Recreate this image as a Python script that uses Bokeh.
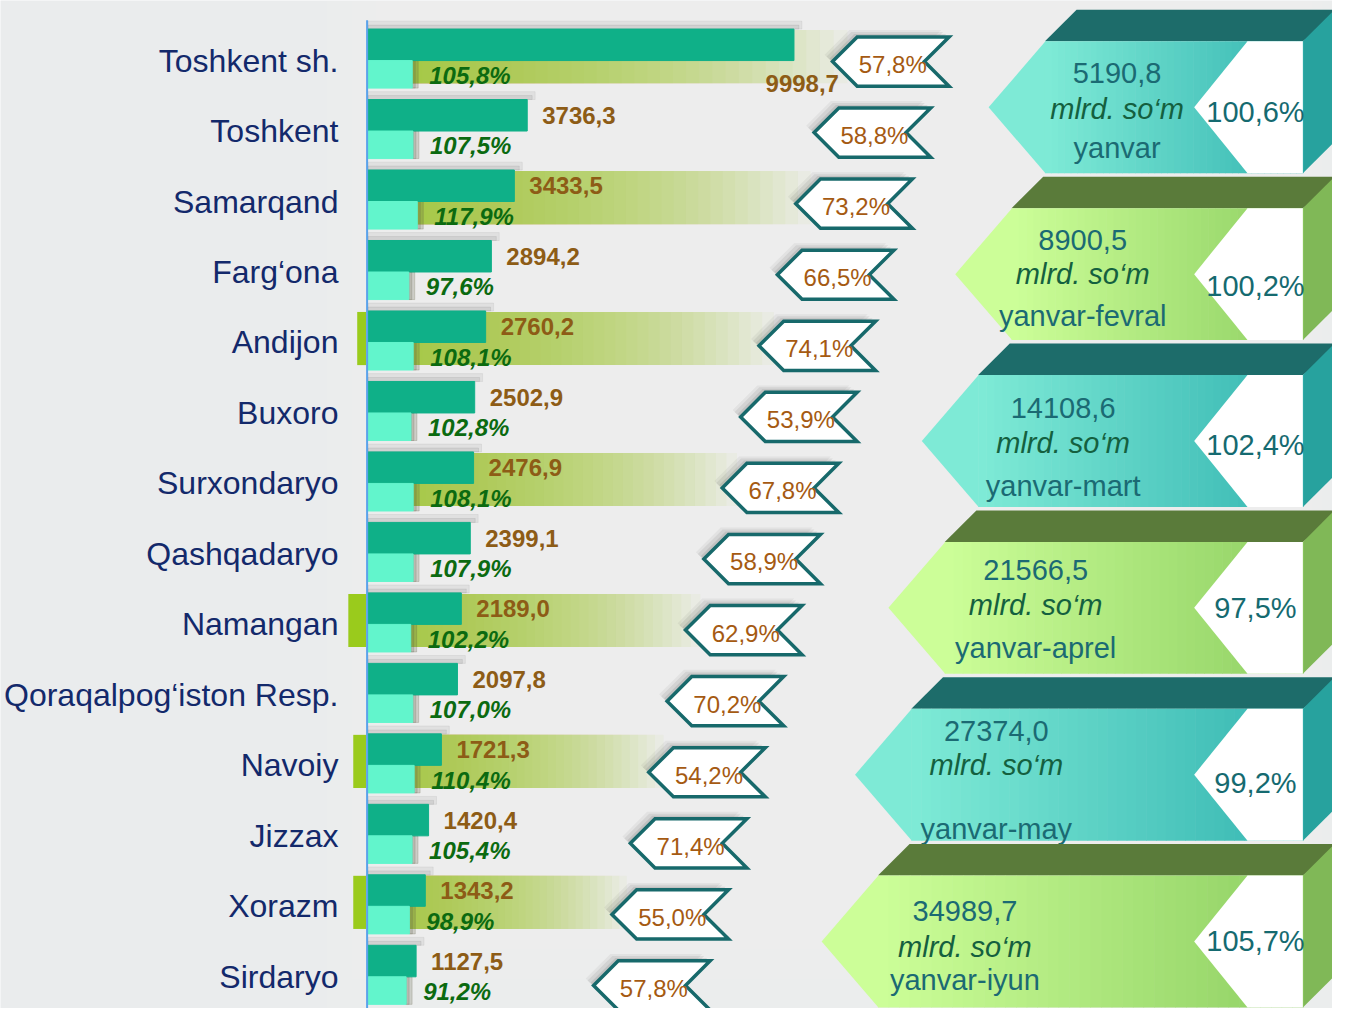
import numpy as np
from bokeh.plotting import figure
from bokeh.models import Range1d
from bokeh.core.properties import value
from bokeh.embed import file_html
from bokeh.resources import INLINE

# ---------------- data ----------------
regions = ["Toshkent sh.", "Toshkent", "Samarqand", "Farg‘ona", "Andijon", "Buxoro",
           "Surxondaryo", "Qashqadaryo", "Namangan", "Qoraqalpog‘iston Resp.",
           "Navoiy", "Jizzax", "Xorazm", "Sirdaryo"]
volume = [9998.7, 3736.3, 3433.5, 2894.2, 2760.2, 2502.9, 2476.9, 2399.1,
          2189.0, 2097.8, 1721.3, 1420.4, 1343.2, 1127.5]
growth = [105.8, 107.5, 117.9, 97.6, 108.1, 102.8, 108.1, 107.9,
          102.2, 107.0, 110.4, 105.4, 98.9, 91.2]
share = [57.8, 58.8, 73.2, 66.5, 74.1, 53.9, 67.8, 58.9,
         62.9, 70.2, 54.2, 71.4, 55.0, 57.8]

periods = ["yanvar", "yanvar-fevral", "yanvar-mart", "yanvar-aprel", "yanvar-may", "yanvar-iyun"]
period_total = [5190.8, 8900.5, 14108.6, 21566.5, 27374.0, 34989.7]
period_growth = [100.6, 100.2, 102.4, 97.5, 99.2, 105.7]
unit = "mlrd. so‘m"

def fmt(v):
    return f"{v:.1f}".replace(".", ",")

# ---------------- layout constants ----------------
W, H = 1332, 1008
PX0, PX1, PY0, PY1 = 0, 1348, 0, 1024   # reference canvas mapped onto the figure
X0 = 372.0              # pixel of zero for the bars
K = 431.0 / 9998.7      # px per mlrd so'm
KP = 0.4225             # px per percent (light bars)
Y0, RH = 61.0, 71.6     # row boundary px and row pitch
FONT = value("Liberation Sans")

p = figure(width=W, height=H, output_backend="svg", toolbar_location=None,
           x_range=Range1d((PX0 - X0) / K, (PX1 - X0) / K),
           y_range=Range1d((PY1 - Y0) / RH, (PY0 - Y0) / RH),
           x_axis_location=None, y_axis_location=None,
           min_border=0, min_border_left=0, min_border_right=0,
           min_border_top=0, min_border_bottom=0)
p.extra_x_ranges = {"px": Range1d(PX0, PX1), "pct": Range1d((PX0 - X0) / KP, (PX1 - X0) / KP)}
p.extra_y_ranges = {"py": Range1d(PY1, PY0)}
p.grid.visible = False
p.outline_line_color = None
p.background_fill_color = "#eaeced"
p.border_fill_color = "#eaeced"

def lerp(c1, c2, t):
    a = [int(c1[i:i + 2], 16) for i in (1, 3, 5)]
    b = [int(c2[i:i + 2], 16) for i in (1, 3, 5)]
    return "#%02x%02x%02x" % tuple(int(round(a[j] + (b[j] - a[j]) * t)) for j in range(3))

n = len(regions)
idx = np.arange(n)

# soft lighter background in the middle / top (nested rectangles, no seams)
NB = 14
p.quad(left=[330 + 25 * j for j in range(NB)], right=[1348 - 10 * j for j in range(NB)],
       top=[0] * NB, bottom=[1024 - 30 * j for j in range(NB)],
       fill_color="#ffffff", fill_alpha=0.05, line_color=None,
       x_range_name="px", y_range_name="py")

# ---------------- highlight bands (alternate rows) ----------------
NS = 40
ql, qr, qt, qb = [], [], [], []
for i in range(0, n, 2):
    end = 842 - 18.6 * i + 15
    yb = Y0 + RH * i
    for j in range(NS):
        r = X0 + (end - X0) * ((j + 1) / NS) ** 1.15
        ql.append(X0); qr.append(r); qt.append(yb - 31); qb.append(yb + 23)
p.quad(left=ql, right=qr, top=qt, bottom=qb, fill_color="#9ccc3c", fill_alpha=0.056,
       line_color=None, x_range_name="px", y_range_name="py")

marker_w = [0, 0, 0, 0, 9, 0, 0, 0, 18, 0, 13, 0, 13, 0]
ml, mt, mb, mr = [], [], [], []
for i, w in enumerate(marker_w):
    if w:
        yb = Y0 + RH * i
        ml.append(370 - w); mr.append(370); mt.append(yb - 31); mb.append(yb + 23)
p.quad(left=ml, right=mr, top=mt, bottom=mb, fill_color="#9acb1c", line_color=None,
       x_range_name="px", y_range_name="py")

# ---------------- bars ----------------
DH = 32 / RH
LH = 28 / RH
vol = np.array(volume)
gr = np.array(growth)
p.hbar(y=idx - DH - 4 / RH, left=0, right=vol + 8 / K, height=8 / RH, color="#7a7a7a", alpha=0.10)
p.hbar(y=idx - DH - 2 / RH, left=0, right=vol + 5 / K, height=4 / RH, color="#6a6a6a", alpha=0.12)
p.hbar(y=idx + LH / 2, left=gr, right=gr + 6 / KP, height=LH, color="#5a5a40", alpha=0.22,
       x_range_name="pct")
p.hbar(y=idx + LH / 2, left=gr, right=gr + 3 / KP, height=LH, color="#5a5a40", alpha=0.18,
       x_range_name="pct")
p.hbar(y=idx - DH / 2, left=0, right=vol, height=DH, color="#0fb088")
p.hbar(y=idx + LH / 2, left=0, right=gr, height=LH, color="#62f5cc", x_range_name="pct")

# axis line
p.segment(x0=[371], y0=[20], x1=[371], y1=[1030], line_color="#5aa2ea", line_width=2,
          x_range_name="px", y_range_name="py")

# category labels
p.text(x=[342] * n, y=idx, text=regions, x_range_name="px", text_font=FONT,
       text_font_size="32px", text_color="#13296b", text_align="right", text_baseline="middle")

# value labels
fit = [i for i in range(n) if volume[i] * K < 350]
big = [i for i in range(n) if volume[i] * K >= 350]
p.text(x=[volume[i] for i in fit], y=[i - 16 / RH for i in fit], text=[fmt(volume[i]) for i in fit],
       x_offset=15, text_font=FONT, text_font_size="24px", text_font_style="bold",
       text_color="#8d5c16", text_align="left", text_baseline="middle")
p.text(x=[volume[i] for i in big], y=[i + 23 / RH for i in big], text=[fmt(volume[i]) for i in big],
       x_offset=45, text_font=FONT, text_font_size="24px", text_font_style="bold",
       text_color="#8d5c16", text_align="right", text_baseline="middle")

# growth labels
p.text(x=growth, y=idx + 15 / RH, text=[fmt(g) + "%" for g in growth], x_range_name="pct",
       x_offset=17, text_font=FONT, text_font_size="24px", text_font_style="bold italic",
       text_color="#0b6a10", text_align="left", text_baseline="middle")

# ---------------- share callouts ----------------
cxs, cys = [], []
tx, ty = [], []
for i in range(n):
    xt = 842 - 18.6 * i
    yc = 62 + 72.2 * i
    xs = [xt, xt + 25, xt + 118, xt + 93, xt + 118, xt + 25]
    ys = [yc, yc - 25, yc - 25, yc, yc + 25, yc + 25]
    cxs.append(xs); cys.append(ys)
    tx.append(xt + 61); ty.append(yc + 3)
for dx, dy, a in [(-8, -7, 0.07), (-6, -5, 0.10), (-3, -3, 0.13)]:
    p.patches(xs=[[x + dx for x in xs] for xs in cxs], ys=[[y + dy for y in ys] for ys in cys],
              fill_color="#505050", fill_alpha=a, line_color=None,
              x_range_name="px", y_range_name="py")
p.patches(xs=cxs, ys=cys, fill_color="#ffffff", line_color="#17696b", line_width=3.5,
          line_join="miter", x_range_name="px", y_range_name="py")
p.text(x=tx, y=ty, text=[fmt(s) + "%" for s in share], x_range_name="px", y_range_name="py",
       text_font=FONT, text_font_size="24px", text_color="#a55a12", text_align="center",
       text_baseline="middle")

# ---------------- period panels ----------------
THEMES = [
    dict(top="#1d6c6a", side="#27a29e", c1="#7eead6", c2="#36b6b2"),
    dict(top="#5a7b3a", side="#80b857", c1="#ccfe98", c2="#8fd063"),
]
TEXT_DX = [73, 72, 86, 92, 86, 88]
VAL_DY = [32.5, 32, 33.5, 29, 22.5, 36]
UNIT_DY = [68.5, 67, 69.5, 64, 57.5, 73]
MON_DY = [108.5, 109, 112.5, 108, 122.5, 106]
PCT_DY = [71.5, 79, 71.5, 67, 75.5, 66]
RX = 1318
NG = 40
for k in range(len(periods)):
    th = THEMES[k % 2]
    FL = 1057 - 33.8 * k
    FT = 41.5 + 169.5 * k
    FB = FT + 134
    mid = FT + 67
    p.patch(x=[FL, FL + 32, 1360, RX], y=[FT, FT - 32, FT - 32, FT], fill_color=th["top"],
            line_color=None, x_range_name="px", y_range_name="py")
    p.patch(x=[RX, 1360, 1360, RX], y=[FT, FT - 42, FB - 42, FB], fill_color=th["side"],
            line_color=None, x_range_name="px", y_range_name="py")
    p.patch(x=[FL - 57, FL + 0.5, FL + 0.5], y=[mid, FT, FB], fill_color=th["c1"], line_color=None,
            x_range_name="px", y_range_name="py")
    gl = [FL + (RX - FL) * j / NG for j in range(NG)]
    gr_ = [FL + (RX - FL) * (j + 1) / NG + 0.6 for j in range(NG)]
    gc = [lerp(th["c1"], th["c2"], j / (NG - 1)) for j in range(NG)]
    p.quad(left=gl, right=gr_, top=FT, bottom=FB, fill_color=gc, line_color=None,
           x_range_name="px", y_range_name="py")
    p.patch(x=[1208, 1262, RX, RX, 1262], y=[mid, FT, FT, FB, FB], fill_color="#ffffff",
            line_color=None, x_range_name="px", y_range_name="py")
    cx = FL + TEXT_DX[k]
    p.text(x=[cx], y=[FT + VAL_DY[k]], text=[fmt(period_total[k])], x_range_name="px",
           y_range_name="py", text_font=FONT, text_font_size="29px", text_color="#1b6a73",
           text_align="center", text_baseline="middle")
    p.text(x=[cx], y=[FT + UNIT_DY[k]], text=[unit], x_range_name="px", y_range_name="py",
           text_font=FONT, text_font_size="29px", text_font_style="italic", text_color="#14603f",
           text_align="center", text_baseline="middle")
    p.text(x=[cx], y=[FT + MON_DY[k]], text=[periods[k]], x_range_name="px", y_range_name="py",
           text_font=FONT, text_font_size="29px", text_color="#1b6a73", text_align="center",
           text_baseline="middle")
    p.text(x=[1270], y=[FT + PCT_DY[k]], text=[fmt(period_growth[k]) + "%"], x_range_name="px",
           y_range_name="py", text_font=FONT, text_font_size="29px", text_color="#156a70",
           text_align="center", text_baseline="middle")

open("out.html", "w").write(file_html(p, INLINE))
